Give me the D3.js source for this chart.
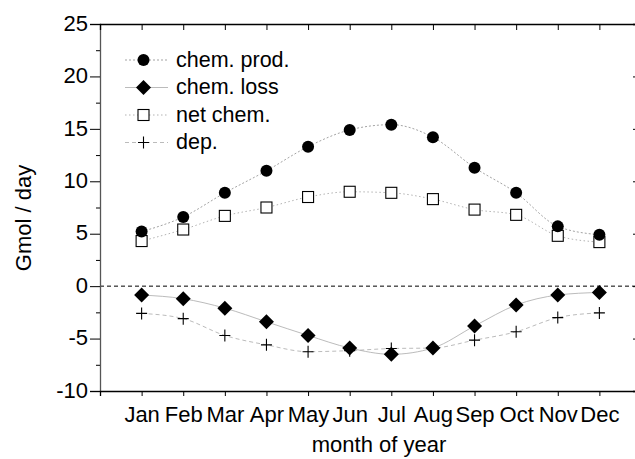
<!DOCTYPE html>
<html><head><meta charset="utf-8">
<script src="https://cdn.jsdelivr.net/npm/d3@7/dist/d3.min.js"></script>
<style>html,body{margin:0;padding:0;background:#fff}svg{display:block}text{font-family:"Liberation Sans",Arial,sans-serif;fill:#000}</style>
</head><body><svg id="c" width="635" height="459"></svg>
<script>
const months = ["Jan","Feb","Mar","Apr","May","Jun","Jul","Aug","Sep","Oct","Nov","Dec"];
const chemProd = [5.2,6.6,8.9,11.0,13.3,14.9,15.4,14.2,11.3,8.9,5.7,4.9];
const chemLoss = [-0.85,-1.2,-2.1,-3.4,-4.7,-5.9,-6.5,-5.9,-3.8,-1.8,-0.85,-0.6];
const netChem = [4.3,5.4,6.7,7.5,8.5,9.0,8.9,8.3,7.3,6.8,4.8,4.2];
const dep = [-2.6,-3.1,-4.7,-5.6,-6.25,-6.15,-5.95,-5.9,-5.15,-4.35,-3.0,-2.55];
const yTicks = [-10,-5,0,5,10,15,20,25];
const yMinor = [-7.5,-2.5,2.5,7.5,12.5,17.5,22.5];
const legendLabels = ["chem. prod.","chem. loss","net chem.","dep."];

const svg = d3.select("#c");
svg.append("rect").attr("width",635).attr("height",459).attr("fill","#fff");
const x = d3.scaleLinear().domain([0,13]).range([100,641]);
const y = d3.scaleLinear().domain([-10,25]).range([391,24]);
const xm = i => x(i+1);

// zero line
svg.append("line").attr("x1",x(0)).attr("x2",x(13)).attr("y1",y(0)).attr("y2",y(0))
  .attr("stroke","#000").attr("stroke-width",1).attr("stroke-dasharray","4,3");

// axes
const fs = "22px";
const gL = svg.append("g").attr("transform",`translate(${x(0)},0)`)
  .call(d3.axisLeft(y).tickValues(yTicks).tickSize(10).tickPadding(2).tickFormat(d=>String(d)));
gL.selectAll("text").style("font-size",fs).attr("dy","0.28em");
svg.append("g").attr("transform",`translate(${x(0)},0)`)
  .call(d3.axisLeft(y).tickValues(yMinor).tickSize(4).tickFormat(""))
  .call(g=>g.select(".domain").remove());
svg.append("g").attr("transform",`translate(${x(13)},0)`)
  .call(d3.axisRight(y).tickValues(yTicks).tickSize(-8).tickFormat(""));
const gB = svg.append("g").attr("transform",`translate(0,${y(-10)})`)
  .call(d3.axisBottom(x).tickValues(months.map((m,i)=>i+1)).tickSize(5).tickPadding(10).tickFormat((d,i)=>months[i]));
gB.selectAll("text").style("font-size",fs).attr("dy","0.71em");
svg.append("g").attr("transform",`translate(0,${y(25)})`)
  .call(d3.axisTop(x).tickValues(months.map((m,i)=>i+1)).tickSize(-6).tickFormat(""));
svg.selectAll(".domain").attr("stroke-width",1.3);
gL.select(".domain").attr("stroke","#555");

// axis titles
svg.append("text").attr("transform","translate(31,218) rotate(-90)").attr("text-anchor","middle")
  .style("font-size",fs).text("Gmol / day");
svg.append("text").attr("x",379).attr("y",452).attr("text-anchor","middle").style("font-size",fs).text("month of year");

// lines
const series = [
  {v:chemProd, dash:"2,2", col:"#999", w:0.9},
  {v:chemLoss, dash:null, col:"#aaa", w:0.8},
  {v:netChem, dash:"1.5,2.5", col:"#aaa", w:0.9},
  {v:dep, dash:"4,3", col:"#aaa", w:0.8}
];
const line = d3.line().x((d,i)=>xm(i)).y(d=>y(d)).curve(d3.curveMonotoneX);
series.forEach(s=>{
  svg.append("path").attr("d",line(s.v)).attr("fill","none").attr("stroke",s.col)
    .attr("stroke-width",s.w).attr("stroke-dasharray",s.dash);
});

// markers
function marker(g,type,cx,cy){
  if(type===0) g.append("circle").attr("cx",cx).attr("cy",cy).attr("r",6).attr("fill","#000");
  else if(type===1) g.append("path").attr("d",`M${cx},${cy-7.5}L${cx+7.5},${cy}L${cx},${cy+7.5}L${cx-7.5},${cy}Z`).attr("fill","#000");
  else if(type===2) g.append("rect").attr("x",cx-5.5).attr("y",cy-5.5).attr("width",11).attr("height",11)
      .attr("fill","#fff").attr("stroke","#000").attr("stroke-width",1.1);
  else g.append("path").attr("d",`M${cx-5.5},${cy}H${cx+5.5}M${cx},${cy-6}V${cy+6}`).attr("stroke","#000").attr("stroke-width",1.1).attr("fill","none");
}
const gm = svg.append("g");
[netChem, chemProd, dep, chemLoss].forEach(arr=>{
  const t = arr===chemProd?0:arr===chemLoss?1:arr===netChem?2:3;
  arr.forEach((v,i)=>marker(gm,t,xm(i),y(v)));
});

// legend
const lg = svg.append("g");
legendLabels.forEach((lab,i)=>{
  const cy = 60 + i*27.5;
  const s = series[i];
  lg.append("line").attr("x1",125).attr("x2",168).attr("y1",cy).attr("y2",cy)
    .attr("stroke",s.col).attr("stroke-width",s.w).attr("stroke-dasharray",s.dash);
  marker(lg,i,143.5,cy);
  lg.append("text").attr("x",176).attr("y",cy+6.5).style("font-size","21.5px").text(lab);
});
</script></body></html>
